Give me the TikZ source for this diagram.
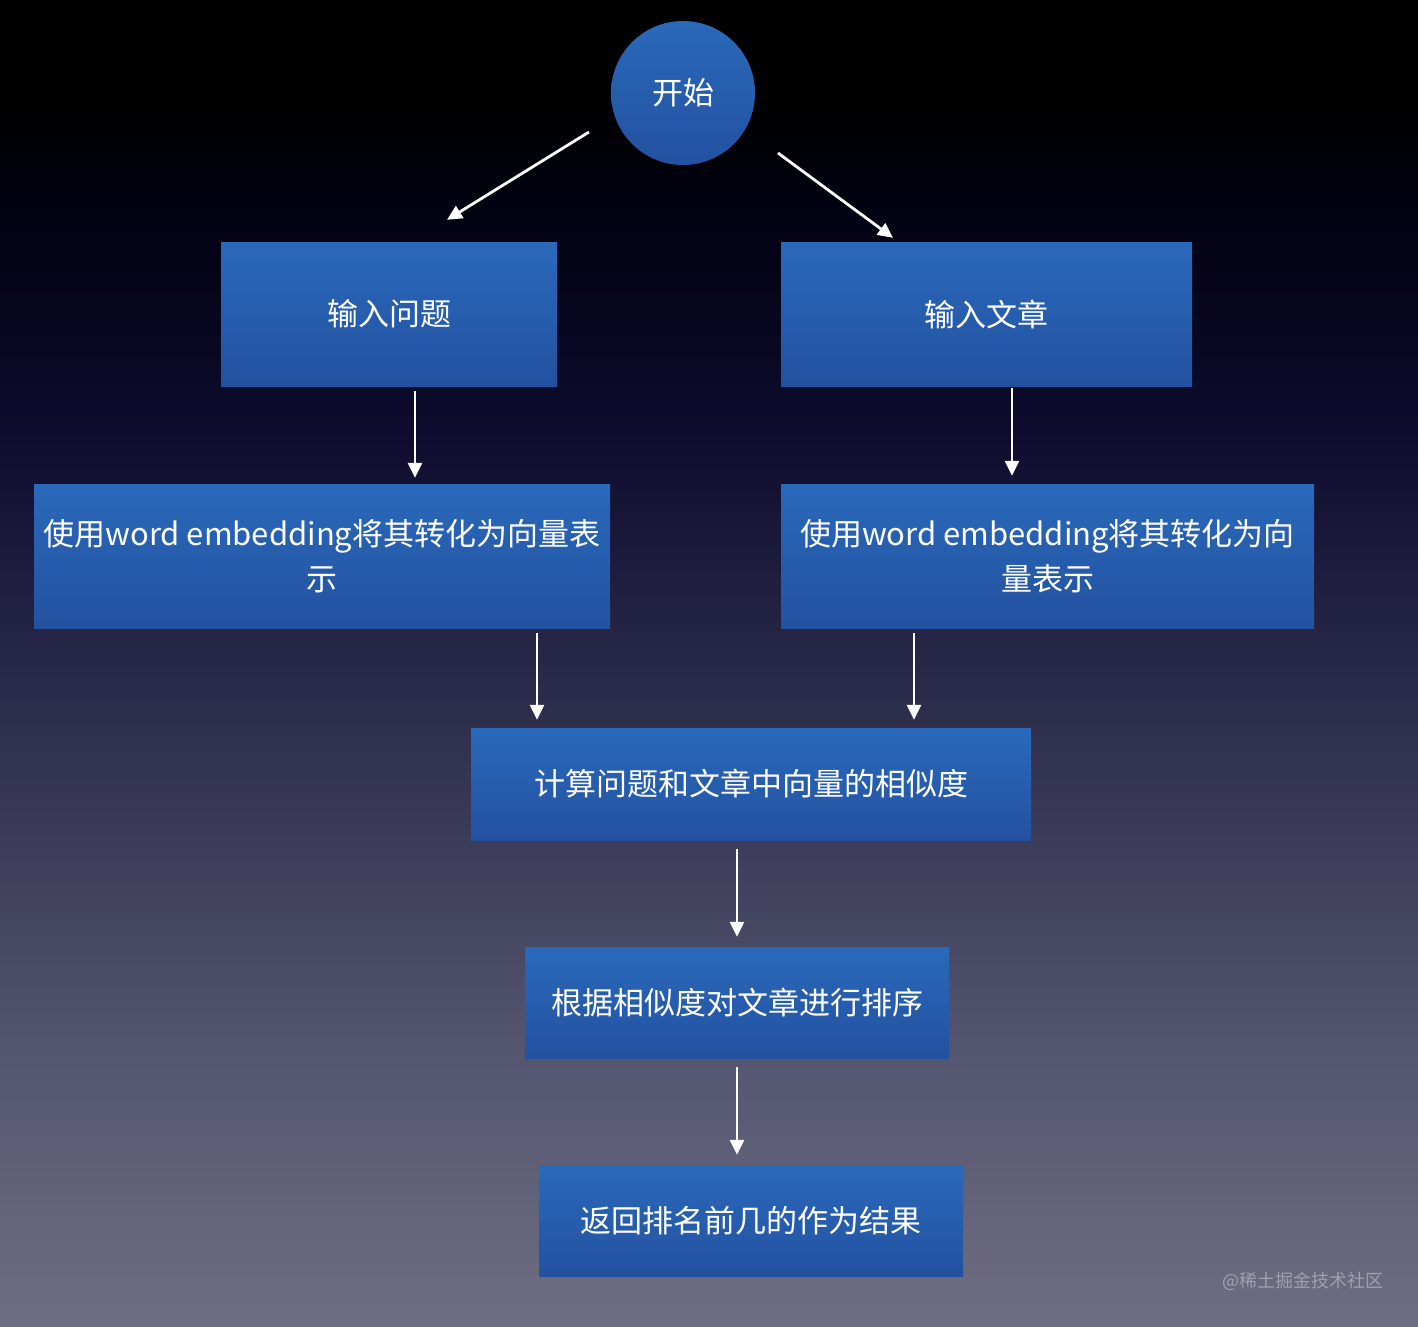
\documentclass[tikz,border=0pt]{standalone}
\usepackage{fontspec}
\setmainfont{Noto Sans CJK SC}
\usetikzlibrary{arrows.meta}
\definecolor{boxtop}{HTML}{2A69BA}
\definecolor{boxbot}{HTML}{2351A0}
\definecolor{wm}{HTML}{A0A0B0}
\definecolor{bga}{HTML}{6E6D82}
\definecolor{bgb}{HTML}{545570}
\definecolor{bgc}{HTML}{2F2F4E}
\definecolor{bgd}{HTML}{0D0C2E}
\definecolor{bge}{HTML}{010110}
\definecolor{bgf}{HTML}{000000}
\pgfdeclareverticalshading{bgshade}{100bp}{%
  color(0bp)=(bga);
  color(25bp)=(bga);
  color(35.4bp)=(bgb);
  color(47.5bp)=(bgc);
  color(58.8bp)=(bgd);
  color(67.5bp)=(bge);
  color(71bp)=(bgf);
  color(100bp)=(bgf)}
\begin{document}
\begin{tikzpicture}[x=1pt,y=-1pt,
  txt/.style={text=white,font=\fontsize{31}{45}\selectfont,align=center,inner sep=0pt},
  stepbox/.style={txt,rectangle,top color=boxtop,bottom color=boxbot,draw=none},
  startnode/.style={txt,circle,top color=boxtop,bottom color=boxbot,draw=none,minimum size=144pt},
  arr/.style={draw=white,line width=2.8pt,-{Triangle[length=15pt,width=14pt]}}
]
\useasboundingbox (0,0) rectangle (1418,1326);
\shade[shading=bgshade] (0,0) rectangle (1418,1326);

\node[startnode] (s) at (683,93) {开始};
\node[stepbox,minimum width=336pt,minimum height=144pt] (q) at (389,314) {输入问题};
\node[stepbox,minimum width=411pt,minimum height=144pt] (d) at (986.5,314) {输入文章};
\node[stepbox,minimum width=576pt,minimum height=144pt] (qe) at (322,556) {使用word embedding将其转化为向量表\\示};
\node[stepbox,minimum width=533pt,minimum height=144pt] (de) at (1047.5,556) {使用word embedding将其转化为向\\量表示};
\node[stepbox,minimum width=560pt,minimum height=112pt] (sim) at (751,784) {计算问题和文章中向量的相似度};
\node[stepbox,minimum width=424pt,minimum height=111pt] (sort) at (737,1002.5) {根据相似度对文章进行排序};
\node[stepbox,minimum width=424pt,minimum height=111pt] (res) at (751,1220.5) {返回排名前几的作为结果};

\draw[arr] ([shift={(-94,39)}]s.center) -- ([shift={(58,-22)}]q.north);
\draw[arr] ([shift={(95,60)}]s.center) -- ([shift={(-93.5,-4)}]d.north);
\draw[arr,shorten <=5pt,shorten >=6pt] ([xshift=26pt]q.south) -- ([xshift=93pt]qe.north);
\draw[arr,shorten <=2pt,shorten >=8pt] ([xshift=25.5pt]d.south) -- ([xshift=-35.5pt]de.north);
\draw[arr,shorten <=5pt,shorten >=8pt] ([xshift=215pt]qe.south) -- ([xshift=-214pt]sim.north);
\draw[arr,shorten <=5pt,shorten >=8pt] ([xshift=-133.5pt]de.south) -- ([xshift=163pt]sim.north);
\draw[arr,shorten <=9pt,shorten >=10pt] ([xshift=-14pt]sim.south) -- (sort.north);
\draw[arr,shorten <=9pt,shorten >=10pt] (sort.south) -- ([xshift=-14pt]res.north);

\node[text=wm,font=\fontsize{18}{20}\selectfont,inner sep=0pt] (wmk) at (1303,1281) {@稀土掘金技术社区};
\end{tikzpicture}
\end{document}
